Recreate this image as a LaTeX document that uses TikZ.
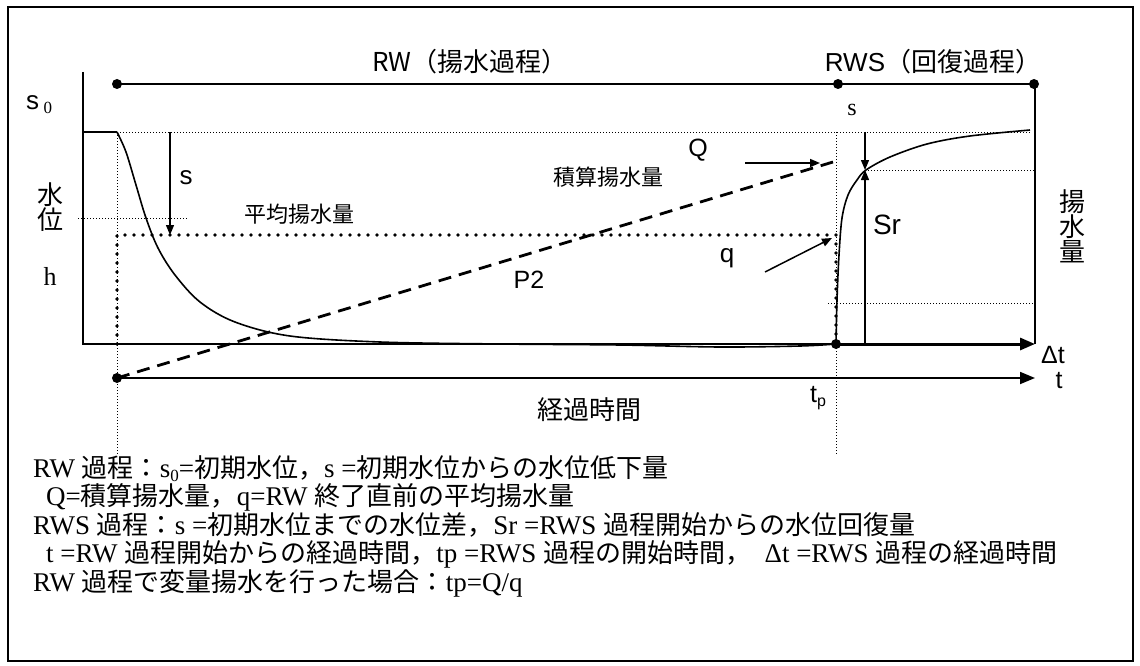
\documentclass[tikz,border=0pt]{standalone}
\usepackage{fontspec}
\setmainfont{Liberation Serif}
\setsansfont{Liberation Sans}
\newfontfamily\jp{Noto Sans CJK JP}
\usetikzlibrary{arrows.meta}
\newcommand{\fsz}[1]{\fontsize{#1}{#1}\selectfont}
\newcommand{\jtxt}[1]{{\jp\fsz{26}#1}}
\newcommand{\lowsub}[2]{\raisebox{-4pt}[0pt][0pt]{\fsz{#1}#2}}
\begin{document}
\begin{tikzpicture}[x=1pt,y=-1pt,
  frame/.style={line width=1.2pt},
  ax/.style={line width=1.6pt},
  thindot/.style={line width=0.8pt, dash pattern=on 0.8pt off 2.2pt},
  bigdot/.style={line width=3.6pt, line cap=round, dash pattern=on 0pt off 9pt},
  dashline/.style={line width=2.8pt, dash pattern=on 13pt off 8pt},
  bigarrow/.style={-{Triangle[length=15pt,width=12pt]}},
  smallarrow/.style={-{Triangle[length=10pt,width=8pt]}},
  pdot/.style={circle, fill, inner sep=0pt, minimum size=10pt},
  lbl/.style={inner sep=0pt, anchor=center},
  btxt/.style={inner sep=0pt, anchor=base west, font=\fsz{27}}
]
\useasboundingbox (0,0) rectangle (1140,666);
\draw[frame] (8,7) rectangle (1133,661);

% coordinates
\coordinate (ytop) at (83,72);
\coordinate (orig) at (83,344);
\coordinate (s0L) at (83,132);
\coordinate (s0R) at (117,132);
\coordinate (s0end) at (1030,132);
\coordinate (tpb) at (836,344);
\coordinate (dtend) at (1035,344);
\coordinate (rwtop) at (1035,84);
\coordinate (tstart) at (117,378);
\coordinate (tend) at (1035,378);
\coordinate (qend) at (833,162);

% axes
\draw[ax] (ytop) -- (orig) -- (tpb);
\draw[ax] (s0L) -- (s0R);
\draw[thindot] (s0R) -- (s0end);
\draw[line width=3pt, bigarrow] (tpb) -- (dtend);
\draw[line width=2pt] (rwtop) -- (dtend);

% RW top line
\node[pdot] (d1) at (117,84) {};
\node[pdot] (d2) at (838,84) {};
\node[pdot] (d3) at (1034,84) {};
\draw[line width=2pt] (d1.center) -- (d3.center);

% t axis
\node[pdot] (d4) at (tstart) {};
\draw[line width=1.8pt, bigarrow] (d4.center) -- (tend);

% dashed P2
\draw[dashline] (d4.center) -- (qend);

% thin dotted guides
\draw[thindot] (117,132) -- (117,455);
\draw[thindot] (836,132) -- (836,455);
\draw[thindot] (78,218) -- (188,218);
\draw[thindot] (865,170) -- (1035,170);
\draw[thindot] (828,303) -- (1035,303);

% thick dotted average pumping
\draw[bigdot] (117,344) -- (117,235) -- (836,235) -- (836,344);

% drawdown curve
\draw[line width=1.6pt] plot[smooth, tension=0.55] coordinates {(117,132) (126,152) (136,185) (146,218) (158,248) (175,275) (200,302) (235,322) (290,336) (380,342) (500,344) (620,345) (720,347) (800,346) (836,344)};
% recovery curve
\draw[line width=1.6pt] plot[smooth, tension=0.55] coordinates {(836,344) (837,300) (839,255) (842,218) (848,195) (857,180) (866,170) (890,157) (927,144) (970,136) (1030,130)};

% tp point
\node[pdot] (d5) at (tpb) {};

% arrows
\coordinate (sa1) at (170,132); \coordinate (sa2) at (170,235);
\draw[line width=1.3pt, smallarrow] (sa1) -- (sa2);
\coordinate (sr1) at (865,132); \coordinate (sr2) at (865,170); \coordinate (sr3) at (865,344);
\draw[line width=1.3pt, smallarrow] (sr1) -- (sr2);
\draw[line width=1.3pt, smallarrow] (sr3) -- (sr2);
\coordinate (qa1) at (745,163); \coordinate (qa2) at (820,163);
\draw[line width=1.5pt, smallarrow] (qa1) -- (qa2);
\coordinate (qb1) at (765,272); \coordinate (qb2) at (832,238);
\draw[line width=1.5pt, smallarrow] (qb1) -- (qb2);

% labels
\node[lbl, font=\jp\fsz{26}] (rwl) at (470,62) {RW（揚水過程）};
\node[lbl, font=\fsz{26}] (rwsl) at (933,62) {\sffamily RWS\jtxt{（回復過程）}};
\node[lbl, anchor=base west] (s0l) at (26,110) {\sffamily\fsz{26}s\,\rmfamily\lowsub{17}{0}};
\node[lbl, font=\jp\fsz{26}, align=center] (suii) at (50,207) {水\\[-1pt]位};
\node[lbl, font=\rmfamily\fsz{26}] (hl) at (50,276) {h};
\node[lbl, font=\sffamily\fsz{26}] (sl) at (186,178) {s};
\node[lbl, font=\jp\fsz{22}] (heikin) at (299,214) {平均揚水量};
\node[lbl, font=\jp\fsz{22}] (sekisan) at (608,177) {積算揚水量};
\node[lbl, font=\sffamily\fsz{25}] (Ql) at (698,150) {Q};
\node[lbl, font=\sffamily\fsz{25}] (P2l) at (529,280) {P2};
\node[lbl, font=\sffamily\fsz{26}] (ql) at (727,258) {q};
\node[lbl, font=\sffamily\fsz{28}] (Srl) at (887,225) {Sr};
\node[lbl, font=\rmfamily\fsz{24}] (stop) at (852,110) {s};
\node[lbl, font=\jp\fsz{26}, align=center] (yosui) at (1072,226) {揚\\[-1pt]水\\[-1pt]量};
\node[lbl, font=\sffamily\fsz{25}] (dtl) at (1053,355) {Δt};
\node[lbl, font=\sffamily\fsz{25}] (tl) at (1059,381) {t};
\node[lbl, anchor=base west] (tpl) at (810,402) {\sffamily\fsz{25}t\lowsub{16}{p}};
\node[lbl, font=\jp\fsz{26}] (keika) at (589,410) {経過時間};

% bottom text
\node[btxt] (b1) at (33,477) {RW \jtxt{過程：}s\lowsub{17}{0}=\jtxt{初期水位，}s =\jtxt{初期水位からの水位低下量}};
\node[btxt] (b2) at (46,505.5) {Q=\jtxt{積算揚水量，}q=RW \jtxt{終了直前の平均揚水量}};
\node[btxt] (b3) at (33,534) {RWS \jtxt{過程：}s =\jtxt{初期水位までの水位差，}Sr =RWS \jtxt{過程開始からの水位回復量}};
\node[btxt] (b4) at (46,562.5) {t =RW \jtxt{過程開始からの経過時間，}tp =RWS \jtxt{過程の開始時間，}\ \ Δt =RWS \jtxt{過程の経過時間}};
\node[btxt] (b5) at (33,591) {RW \jtxt{過程で変量揚水を行った場合：}tp=Q/q};
\end{tikzpicture}
\end{document}
